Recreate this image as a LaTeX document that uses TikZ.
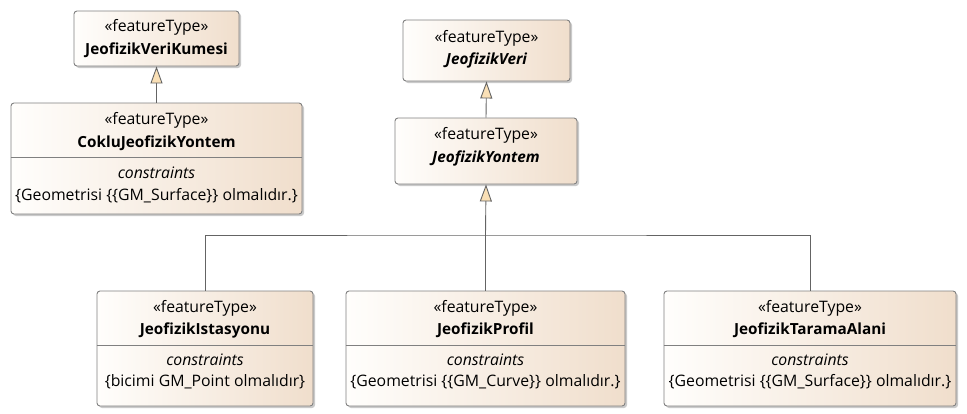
\documentclass[tikz,border=0pt]{standalone}
\usepackage{fontspec}
\setmainfont{Open Sans}
\usetikzlibrary{arrows.meta,shadows}
\definecolor{bordergray}{RGB}{128,128,128}
\definecolor{boxleft}{RGB}{255,254,252}
\definecolor{boxright}{RGB}{240,222,204}
\definecolor{tipfill}{RGB}{250,224,182}
\definecolor{linegray}{RGB}{100,100,100}
\tikzset{
  umlbox/.style={draw=bordergray, line width=0.9pt, rounded corners=3pt,
    left color=boxleft, right color=boxright, inner sep=0pt,
    drop shadow={shadow xshift=2pt, shadow yshift=-2pt, opacity=0.35, fill=black!60}},
  txt/.style={inner sep=0pt, font=\fontsize{15.8}{18}\selectfont},
  bname/.style={txt, font=\fontsize{15.3}{18}\selectfont\bfseries},
  iname/.style={txt, font=\fontsize{15.3}{18}\selectfont\bfseries\itshape},
  itxt/.style={txt, font=\fontsize{15.8}{18}\selectfont\itshape},
  div/.style={draw=bordergray, line width=0.9pt},
  conn/.style={draw=linegray, line width=0.9pt},
  gen/.style={conn, -{Triangle[length=17pt, width=12pt, fill=tipfill]}},
}
\begin{document}
\begin{tikzpicture}[x=1pt,y=1pt]
\useasboundingbox (0,0) rectangle (967,-413);
% boxes
\node[umlbox, minimum width=165pt, minimum height=55pt] (A) at (156.5,-38.5) {};
\node[umlbox, minimum width=291pt, minimum height=111pt] (B) at (156.5,-158.5) {};
\node[umlbox, minimum width=167pt, minimum height=61pt] (C) at (486.5,-50.5) {};
\node[umlbox, minimum width=182pt, minimum height=66pt] (D) at (486,-151) {};
\node[umlbox, minimum width=216pt, minimum height=115pt] (E) at (205,-348.5) {};
\node[umlbox, minimum width=279pt, minimum height=115pt] (F) at (485.5,-348.5) {};
\node[umlbox, minimum width=292pt, minimum height=115pt] (G) at (810,-348.5) {};
% dividers
\draw[div] ([yshift=-55pt]B.north west) -- ([yshift=-55pt]B.north east);
\draw[div] ([yshift=-55pt]E.north west) -- ([yshift=-55pt]E.north east);
\draw[div] ([yshift=-55pt]F.north west) -- ([yshift=-55pt]F.north east);
\draw[div] ([yshift=-55pt]G.north west) -- ([yshift=-55pt]G.north east);
% texts
\node[txt] (As) at (156.5,-27) {«featureType»};
\node[bname] (An) at (156.5,-50) {JeofizikVeriKumesi};
\node[txt] (Bs) at (156.5,-120) {«featureType»};
\node[bname] (Bn) at (156.5,-143) {CokluJeofizikYontem};
\node[itxt] (Bc) at (156.5,-173) {constraints};
\node[txt] (Bk) at (156.5,-196) {\{Geometrisi \{\{GM\_Surface\}\} olmalıdır.\}};
\node[txt] (Cs) at (486.5,-38) {«featureType»};
\node[iname] (Cn) at (486.5,-60) {JeofizikVeri};
\node[txt] (Ds) at (486,-135) {«featureType»};
\node[iname] (Dn) at (486,-158) {JeofizikYontem};
\node[txt] (Es) at (205,-308) {«featureType»};
\node[bname] (En) at (205,-330) {JeofizikIstasyonu};
\node[itxt] (Ec) at (205,-360) {constraints};
\node[txt] (Ek) at (205,-382) {\{bicimi GM\_Point olmalıdır\}};
\node[txt] (Fs) at (485.5,-308) {«featureType»};
\node[bname] (Fn) at (485.5,-330) {JeofizikProfil};
\node[itxt] (Fc) at (485.5,-360) {constraints};
\node[txt] (Fk) at (485.5,-382) {\{Geometrisi \{\{GM\_Curve\}\} olmalıdır.\}};
\node[txt] (Gs) at (810,-308) {«featureType»};
\node[bname] (Gn) at (810,-330) {JeofizikTaramaAlani};
\node[itxt] (Gc) at (810,-360) {constraints};
\node[txt] (Gk) at (810,-382) {\{Geometrisi \{\{GM\_Surface\}\} olmalıdır.\}};
% connectors
\coordinate (J) at (486,-235);
\draw[gen] (B.north) -- (A.south);
\draw[gen] (D.north) -- (C.south);
\draw[gen] (F.north |- J) -- (D.south);
\draw[conn] (F.north) -- (F.north |- J);
\draw[conn] (E.north) |- (J) -| (G.north);
\end{tikzpicture}
\end{document}
